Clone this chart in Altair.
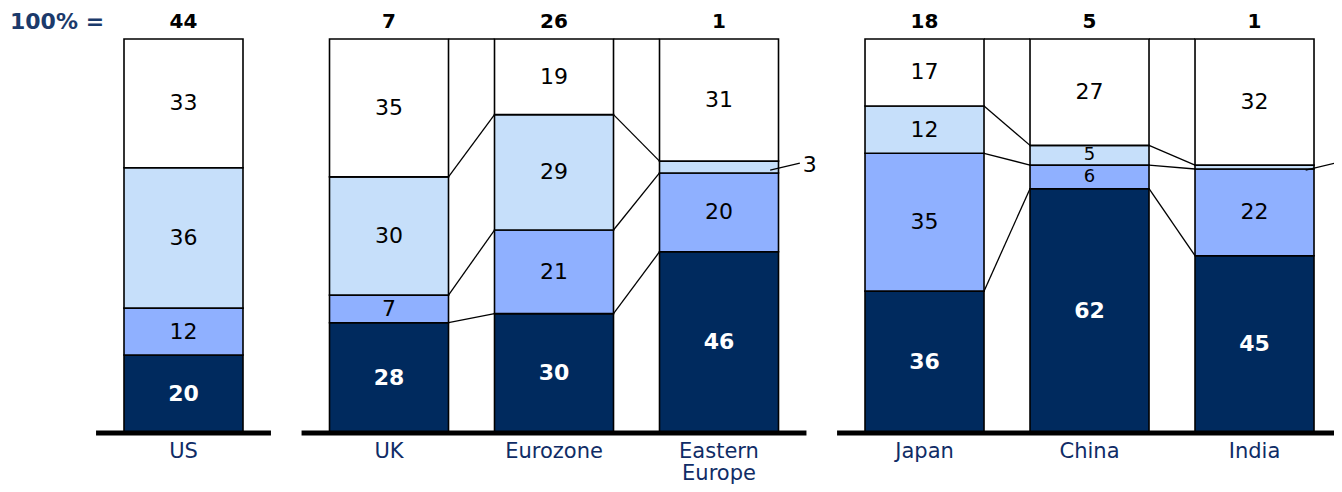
import altair as alt
import pandas as pd

# ---- data ----
categories = ["US", "UK", "Eurozone", "Eastern Europe", "Japan", "China", "India"]
group_of = [0, 1, 1, 1, 2, 2, 2]
totals = [44, 7, 26, 1, 18, 5, 1]
series_names = ["Segment 1", "Segment 2", "Segment 3", "Segment 4"]  # bottom -> top
seg1 = [20, 28, 30, 46, 36, 62, 45]
seg2 = [12, 7, 21, 20, 35, 6, 22]
seg3 = [36, 30, 29, 3, 12, 5, 1]
seg4 = [33, 35, 19, 31, 17, 27, 32]
series_values = [seg1, seg2, seg3, seg4]
series_colors = ["#002A5E", "#8FB0FF", "#C6DFFA", "#FFFFFF"]

# ---- layout helpers (in step units) ----
GROUP_GAP = 0.2455
HALF_W = 0.3606
pos = [i + g * GROUP_GAP for i, g in enumerate(group_of)]

seg_rows, cum_by_cat = [], []
for i, cat in enumerate(categories):
    vals = [s[i] for s in series_values]
    tot = float(sum(vals))
    c = 0.0
    cums = [0.0]
    for k, v in enumerate(vals):
        y0 = c / tot
        c += v
        y1 = c / tot
        cums.append(y1)
        seg_rows.append(dict(cat=cat, series=series_names[k], value=v, pos=pos[i],
                             x0=pos[i] - HALF_W, x1=pos[i] + HALF_W, y0=y0, y1=y1,
                             mid=(y0 + y1) / 2, small=v < 4, tight=4 <= v < 7,
                             dark=(k == 0), last=(i == len(categories) - 1)))
    cum_by_cat.append(cums)
seg = pd.DataFrame(seg_rows)

# connectors between adjacent bars of the same group
con_rows = []
for i in range(len(categories) - 1):
    if group_of[i] != group_of[i + 1]:
        continue
    for k in range(1, 5):
        con_rows.append(dict(x0=pos[i] + HALF_W, x1=pos[i + 1] - HALF_W,
                             y0=cum_by_cat[i][k], y1=cum_by_cat[i + 1][k]))
con = pd.DataFrame(con_rows)

# group baselines
base_rows = []
for g in sorted(set(group_of)):
    idx = [i for i, gg in enumerate(group_of) if gg == g]
    base_rows.append(dict(x0=pos[idx[0]] - 0.53, x1=pos[idx[-1]] + 0.53, y=0.0))
base = pd.DataFrame(base_rows)

# small-segment leaders (the last bar's leader runs off the page edge, as in the reference)
small = seg[seg["small"]].copy()
small["lx0"] = small["pos"] + 0.31
small["lx1"] = small["pos"] + 0.49
small["ly0"] = small["mid"] - 0.008
small["ly1"] = small["mid"] + 0.010
small["tx"] = small["pos"] + 0.55
small["ty"] = small["mid"] + 0.004
small_txt = small[~small["last"]]

cats = pd.DataFrame(dict(cat=categories, pos=pos, total=[str(t) for t in totals],
                         label=[c.replace(" ", "\n") if c == "Eastern Europe" else c for c in categories]))

W, H = 1326, 476
xs = alt.Scale(domain=[-175.5 / 165, (W - 175.5) / 165], nice=False, zero=False)
ys = alt.Scale(domain=[-51 / 394, 1 + 31 / 394], nice=False, zero=False)
FONT = "DejaVu Sans"

bars = alt.Chart(seg).mark_rect(stroke="black", strokeWidth=1.6).encode(
    x=alt.X("x0:Q", scale=xs, axis=None), x2="x1:Q",
    y=alt.Y("y0:Q", scale=ys, axis=None), y2="y1:Q",
    color=alt.Color("series:N", scale=alt.Scale(domain=series_names, range=series_colors), legend=None),
)

connectors = alt.Chart(con).mark_rule(color="black", strokeWidth=1.3).encode(
    x=alt.X("x0:Q", scale=xs), x2="x1:Q", y=alt.Y("y0:Q", scale=ys), y2="y1:Q")

baselines = alt.Chart(base).mark_rule(color="black", strokeWidth=5).encode(
    x=alt.X("x0:Q", scale=xs), x2="x1:Q", y=alt.Y("y:Q", scale=ys))

dark_labels = alt.Chart(seg[seg["dark"] & ~seg["small"]]).mark_text(
    font=FONT, fontSize=22, fontWeight="bold", color="white", baseline="middle").encode(
    x=alt.X("pos:Q", scale=xs), y=alt.Y("mid:Q", scale=ys), text="value:Q")

other_labels = alt.Chart(seg[~seg["dark"] & ~seg["small"] & ~seg["tight"]]).mark_text(
    font=FONT, fontSize=22, color="black", baseline="middle").encode(
    x=alt.X("pos:Q", scale=xs), y=alt.Y("mid:Q", scale=ys), text="value:Q")

tight_labels = alt.Chart(seg[~seg["dark"] & seg["tight"]]).mark_text(
    font=FONT, fontSize=18, color="black", baseline="middle").encode(
    x=alt.X("pos:Q", scale=xs), y=alt.Y("mid:Q", scale=ys), text="value:Q")

leaders = alt.Chart(small).mark_rule(color="black", strokeWidth=1.2).encode(
    x=alt.X("lx0:Q", scale=xs), x2="lx1:Q", y=alt.Y("ly0:Q", scale=ys), y2="ly1:Q")

small_labels = alt.Chart(small_txt).mark_text(
    font=FONT, fontSize=22, color="black", baseline="middle").encode(
    x=alt.X("tx:Q", scale=xs), y=alt.Y("ty:Q", scale=ys), text="value:Q")

total_labels = alt.Chart(cats).mark_text(
    font=FONT, fontSize=20, fontWeight="bold", color="black", baseline="middle", dy=-17).encode(
    x=alt.X("pos:Q", scale=xs), y=alt.Y("y:Q", scale=ys), text="total:N").transform_calculate(y="1")

cat_labels = alt.Chart(cats).mark_text(
    font=FONT, fontSize=21, color="#0F2C66", baseline="top", dy=8, lineBreak="\n", lineHeight=22).encode(
    x=alt.X("pos:Q", scale=xs), y=alt.Y("y:Q", scale=ys), text="label:N").transform_calculate(y="0")

hundred = alt.Chart(pd.DataFrame(dict(t=["100% ="], y=[1.0]))).mark_text(
    font=FONT, fontSize=22, fontWeight="bold", color="#1B3A6B", align="left", baseline="middle", dy=-17).encode(
    x=alt.value(2), y=alt.Y("y:Q", scale=ys), text="t:N")

chart = alt.layer(bars, connectors, baselines, dark_labels, other_labels, tight_labels, leaders,
                  small_labels, total_labels, cat_labels, hundred).properties(
    width=W, height=H, autosize=alt.AutoSizeParams(type="none"), padding=0,
).configure_view(stroke=None)

chart.save("out.html", embed_options={"renderer": "svg", "actions": False})
